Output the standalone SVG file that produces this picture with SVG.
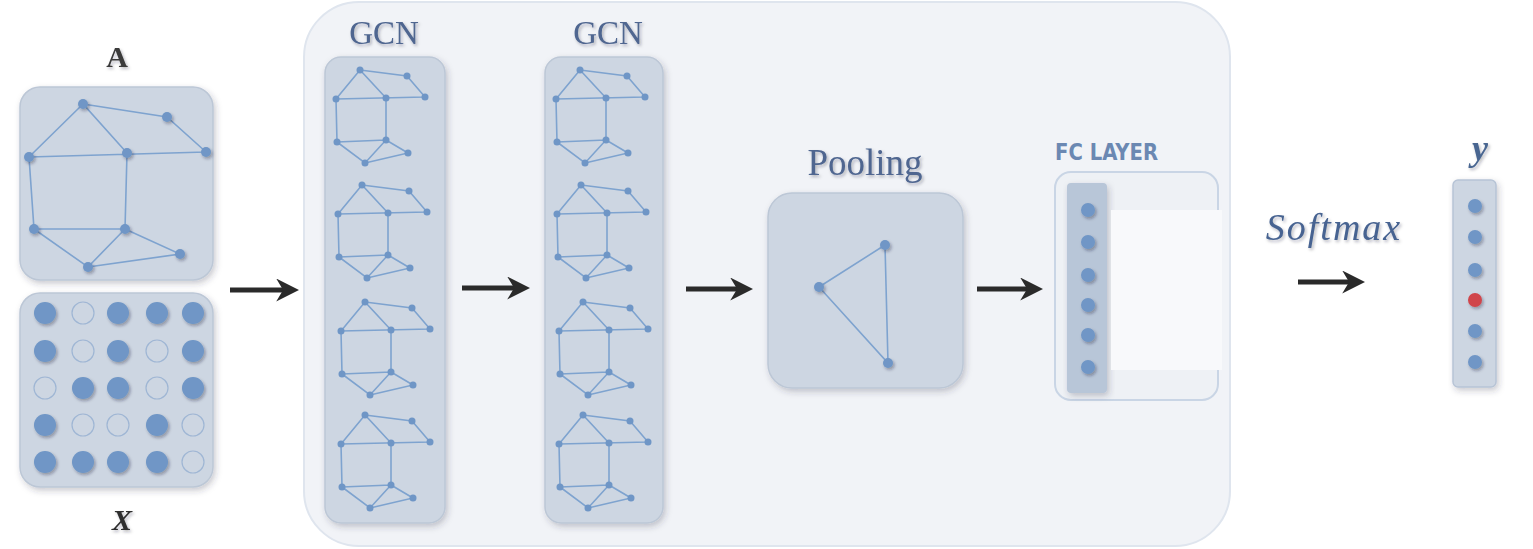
<svg xmlns="http://www.w3.org/2000/svg" xmlns:xlink="http://www.w3.org/1999/xlink" width="1533" height="549" viewBox="0 0 1533 549">
<style>
.box{fill:#cdd6e2;stroke:#bcc7d6;stroke-width:1.5}
.e{stroke:#7ea3cf;stroke-width:1.6;fill:none}
.n{fill:#6f96c6}
.ns{fill:#6f96c6}
.no{fill:none;stroke:#9fb6d4;stroke-width:1.2}
.lab{font-family:"Liberation Serif",serif;fill:#4f6690}
.arr{stroke:#2a2a2a;stroke-width:5;fill:none}
</style>
<defs>
<filter id="sh" x="-10%" y="-10%" width="130%" height="130%">
<feDropShadow dx="2" dy="3" stdDeviation="3" flood-color="#334" flood-opacity="0.25"/>
</filter>
<filter id="ds" x="-50%" y="-50%" width="200%" height="200%">
<feDropShadow dx="1.5" dy="2" stdDeviation="1.5" flood-color="#223" flood-opacity="0.35"/>
</filter>
<filter id="ts" x="-10%" y="-20%" width="130%" height="150%">
<feDropShadow dx="1.5" dy="2" stdDeviation="1.5" flood-color="#223" flood-opacity="0.3"/>
</filter>
<marker id="ah" viewBox="0 0 10 10" refX="6" refY="5" markerWidth="4.6" markerHeight="4.6" orient="auto" markerUnits="strokeWidth">
<path d="M0,0 L10,5 L0,10 L3,5 Z" fill="#2a2a2a"/>
</marker>
<g id="mg">
<path class="e" d="M0,0 L47,6 L65,27 M0,0 L-24,29 L-23,72 L5,93 L26,70 L26,28 Z M-24,29 L65,27 M-23,72 L26,70 M26,70 L48,83 L5,93"/>
<g class="n">
<circle cx="0" cy="0" r="3.5"/><circle cx="47" cy="6" r="3.5"/><circle cx="-24" cy="29" r="3.5"/>
<circle cx="26" cy="28" r="3.5"/><circle cx="65" cy="27" r="3.5"/><circle cx="-23" cy="72" r="3.5"/>
<circle cx="26" cy="70" r="3.5"/><circle cx="48" cy="83" r="3.5"/><circle cx="5" cy="93" r="3.5"/>
</g>
</g>
</defs>
<rect width="1533" height="549" fill="#ffffff"/>
<g id="container">
<rect x="304" y="2" width="926" height="544" rx="55" fill="#f1f3f7" stroke="#dfe5ee" stroke-width="2"/>
</g>
<g id="nodeA">
<text x="117" y="67" text-anchor="middle" font-family="Liberation Serif,serif" font-weight="bold" font-size="30" fill="#3a3a3a" filter="url(#ts)">A</text>
<rect class="box" x="20" y="87" width="193" height="193" rx="20" filter="url(#sh)"/>
<path class="e" d="M83,104 L167,117 L206,152 M83,104 L29,157 L34,229 L88,267 L125,229 L127,153 Z M29,157 L206,152 M34,229 L125,229 M125,229 L180,254 L88,267"/>
<g class="n" filter="url(#ds)">
<circle cx="83" cy="104" r="5"/><circle cx="167" cy="117" r="5"/><circle cx="29" cy="157" r="5"/>
<circle cx="127" cy="153" r="5"/><circle cx="206" cy="152" r="5"/><circle cx="34" cy="229" r="5"/>
<circle cx="125" cy="229" r="5"/><circle cx="180" cy="254" r="5"/><circle cx="88" cy="267" r="5"/>
</g>
</g>
<g id="nodeX">
<rect class="box" x="20" y="293" width="193" height="194" rx="20" filter="url(#sh)"/>
<g class="ns" filter="url(#ds)">
<circle cx="45" cy="313" r="11"/><circle cx="118" cy="313" r="11"/><circle cx="157" cy="313" r="11"/><circle cx="193" cy="313" r="11"/>
<circle cx="45" cy="351" r="11"/><circle cx="118" cy="351" r="11"/><circle cx="193" cy="351" r="11"/>
<circle cx="83" cy="388" r="11"/><circle cx="118" cy="388" r="11"/><circle cx="193" cy="388" r="11"/>
<circle cx="45" cy="425" r="11"/><circle cx="157" cy="425" r="11"/>
<circle cx="45" cy="462" r="11"/><circle cx="83" cy="462" r="11"/><circle cx="118" cy="462" r="11"/><circle cx="157" cy="462" r="11"/>
</g>
<g class="no">
<circle cx="83" cy="313" r="11"/><circle cx="83" cy="351" r="11"/><circle cx="157" cy="351" r="11"/>
<circle cx="45" cy="388" r="11"/><circle cx="157" cy="388" r="11"/>
<circle cx="83" cy="425" r="11"/><circle cx="118" cy="425" r="11"/><circle cx="193" cy="425" r="11"/>
<circle cx="193" cy="462" r="11"/>
</g>
<text x="122" y="530" text-anchor="middle" font-family="Liberation Serif,serif" font-style="italic" font-weight="bold" font-size="30" fill="#2e2e2e" filter="url(#ts)">X</text>
</g>
<g id="gcn1">
<text class="lab" x="384" y="44" text-anchor="middle" font-size="33" filter="url(#ts)">GCN</text>
<rect class="box" x="325" y="57" width="120" height="466" rx="16" filter="url(#sh)"/>
<use xlink:href="#mg" x="360" y="70"/>
<use xlink:href="#mg" x="362" y="185"/>
<use xlink:href="#mg" x="365" y="302"/>
<use xlink:href="#mg" x="365" y="415"/>
</g>
<g id="gcn2">
<text class="lab" x="608" y="44" text-anchor="middle" font-size="33" filter="url(#ts)">GCN</text>
<rect class="box" x="545" y="57" width="118" height="466" rx="16" filter="url(#sh)"/>
<use xlink:href="#mg" x="580" y="70"/>
<use xlink:href="#mg" x="581" y="185"/>
<use xlink:href="#mg" x="583" y="302"/>
<use xlink:href="#mg" x="583" y="415"/>
</g>
<g id="pooling">
<text class="lab" x="865" y="175" text-anchor="middle" font-size="37" filter="url(#ts)">Pooling</text>
<rect class="box" x="768" y="193" width="195" height="195" rx="24" filter="url(#sh)"/>
<path class="e" d="M885,245 L819,287 L888,363 Z"/>
<g class="n" filter="url(#ds)">
<circle cx="885" cy="245" r="5"/><circle cx="819" cy="287" r="5"/><circle cx="888" cy="363" r="5"/>
</g>
</g>
<g id="fc">
<text x="1055" y="160" font-family="DejaVu Sans Condensed,DejaVu Sans,sans-serif" font-weight="bold" font-size="23" textLength="103" lengthAdjust="spacingAndGlyphs" fill="#6b88b2">FC LAYER</text>
<rect x="1055" y="172" width="163" height="228" rx="16" fill="#eef1f5" stroke="#c9d5e5" stroke-width="2"/>
<rect x="1067" y="183" width="40" height="210" rx="4" fill="#b8c6d8" filter="url(#sh)"/>
<rect x="1111" y="210" width="111" height="160" fill="#f8f9fb"/>
<g class="n" filter="url(#ds)">
<circle cx="1088" cy="210" r="7"/><circle cx="1088" cy="242" r="7"/><circle cx="1088" cy="275" r="7"/>
<circle cx="1088" cy="305" r="7"/><circle cx="1088" cy="335" r="7"/><circle cx="1088" cy="367" r="7"/>
</g>
</g>
<g id="output">
<text x="1480" y="160" text-anchor="middle" font-family="Liberation Serif,serif" font-style="italic" font-weight="bold" font-size="36" fill="#4a6691" filter="url(#ts)">y</text>
<rect x="1453" y="180" width="43" height="207" rx="5" fill="#cdd6e2" stroke="#b7c4d6" stroke-width="1.5" filter="url(#sh)"/>
<g filter="url(#ds)">
<circle class="n" cx="1475" cy="206" r="7"/><circle class="n" cx="1475" cy="237" r="7"/><circle class="n" cx="1475" cy="270" r="7"/>
<circle cx="1475" cy="300" r="7" fill="#d0454b"/><circle class="n" cx="1475" cy="331" r="7"/><circle class="n" cx="1475" cy="362" r="7"/>
</g>
</g>
<g id="connectors">
<line class="arr" x1="230" y1="290" x2="290" y2="290" marker-end="url(#ah)"/>
<line class="arr" x1="462" y1="288" x2="521" y2="288" marker-end="url(#ah)"/>
<line class="arr" x1="686" y1="289" x2="744" y2="289" marker-end="url(#ah)"/>
<line class="arr" x1="977" y1="289" x2="1034" y2="289" marker-end="url(#ah)"/>
<line class="arr" x1="1298" y1="282" x2="1356" y2="282" marker-end="url(#ah)"/>
<text x="1334" y="240" text-anchor="middle" font-family="Liberation Serif,serif" font-style="italic" font-size="38" letter-spacing="2" fill="#476391" filter="url(#ts)">Softmax</text>
</g>
</svg>
